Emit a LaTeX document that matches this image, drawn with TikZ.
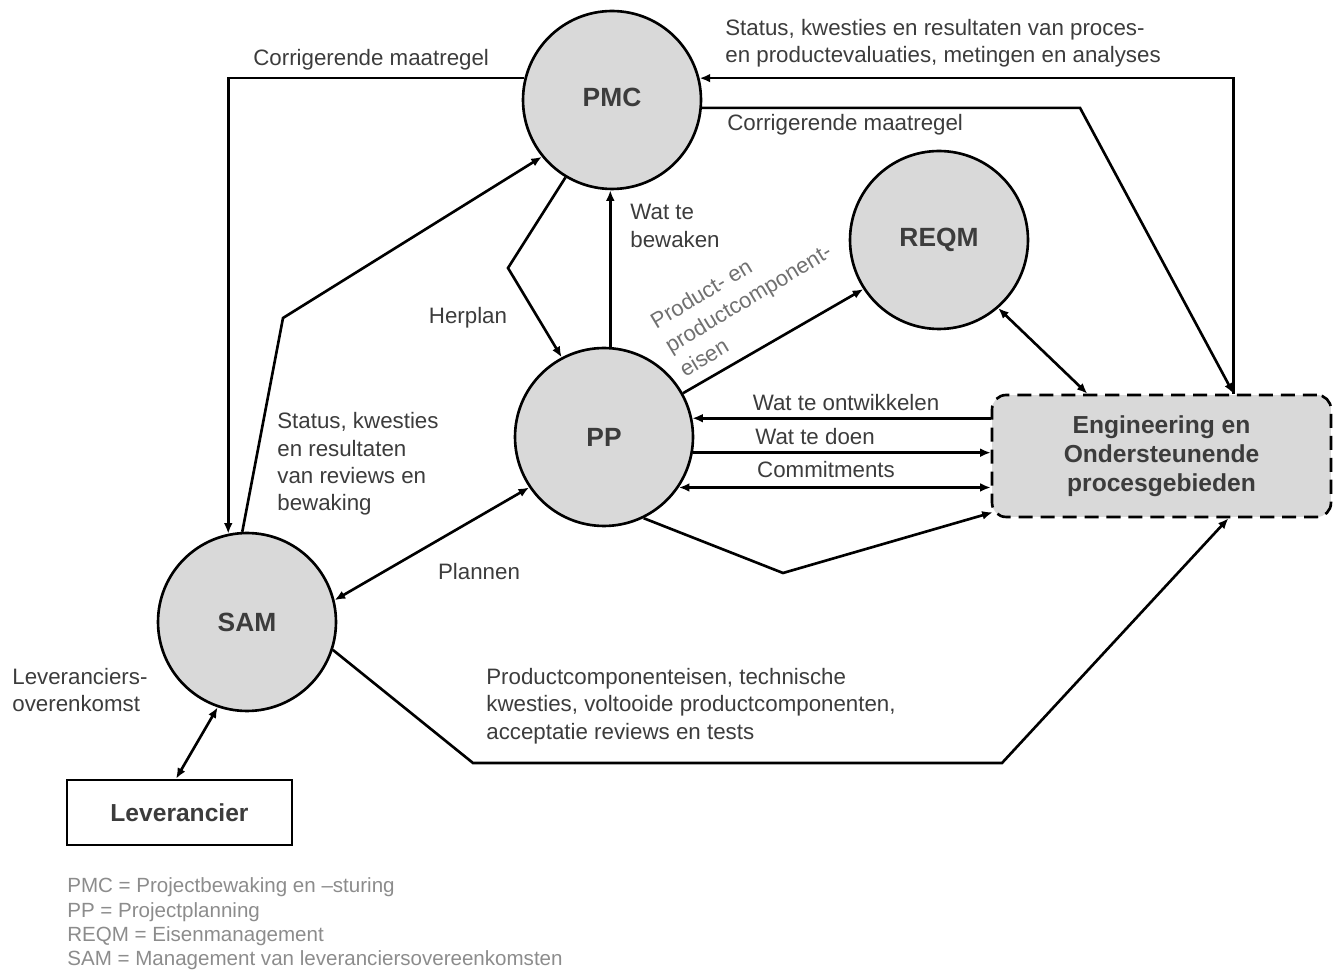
\documentclass[tikz,border=0pt]{standalone}
\usepackage{fontspec}
\setmainfont{Liberation Sans}
\usetikzlibrary{arrows.meta,calc}
\definecolor{fillgray}{HTML}{D9D9D9}
\definecolor{txt}{HTML}{3C3C3C}
\definecolor{rottxt}{HTML}{707070}
\definecolor{legtxt}{HTML}{8C8C8C}
\begin{document}
\begin{tikzpicture}[x=0.02cm,y=-0.02cm,
  proc/.style={circle,draw=black,line width=1.5pt,fill=fillgray,minimum size=3.56cm,inner sep=0pt,
    font=\fontsize{15}{18}\selectfont\bfseries,text=txt},
  conn/.style={line width=1.5pt,line join=miter},
  arr/.style={conn,-{Latex[length=6pt,width=5pt]}},
  darr/.style={conn,{Latex[length=6pt,width=5pt]}-{Latex[length=6pt,width=5pt]}},
  lbl/.style={font=\fontsize{12.7}{15.6}\selectfont,text=txt,align=left,inner sep=0pt},
  rotlbl/.style={font=\fontsize{12.5}{16}\selectfont,text=rottxt,align=left,inner sep=0pt},
  legendtxt/.style={font=\fontsize{11.7}{13.9}\selectfont,text=legtxt,align=left,inner sep=0pt},
]
\useasboundingbox (0,0) rectangle (1336,972);

% process nodes
\node[proc] (PMC) at (612,100) {\raisebox{3pt}{PMC}};
\node[proc] (PP) at (604,437) {PP};
\node[proc] (REQM) at (939,240) {\raisebox{3pt}{REQM}};
\node[proc] (SAM) at (247,622) {SAM};
\node[draw=black,dash pattern=on 8pt off 4.5pt,line width=1.5pt,rounded corners=8pt,fill=fillgray,
  minimum width=6.78cm,minimum height=2.44cm,align=center,inner sep=0pt,
  font=\fontsize{14}{16.4}\selectfont\bfseries,text=txt] (Eng) at (1161.5,456)
  {Engineering en\\Ondersteunende\\procesgebieden};
\node[draw=black,line width=1.5pt,minimum width=4.5cm,minimum height=1.3cm,inner sep=0pt,
  font=\fontsize{14}{17}\selectfont\bfseries,text=txt] (Lev) at (179.5,812.5) {Leverancier};

% connectors
\draw[arr] (PMC.166) -| (SAM.102);
\coordinate (k2) at (283,318);
\draw[arr] (SAM.93) -- (k2) -- (PMC.219);
\coordinate (k3) at (508,268);
\draw[arr] (PMC.239) -- (k3) -- (PP.118);
\draw[arr] (PP.86) -- (PP.86 |- PMC.south);
\draw[arr] (PP.29) -- (REQM.213);
\draw[darr] (REQM.311) -- ($(Eng.north west)!0.283!(Eng.north east)$);
\coordinate (k7) at (1080,107);
\coordinate (EngT) at ($(Eng.north west)!0.711!(Eng.north east)$);
\draw[arr] (PMC.355) -- (PMC.355 -| k7) -- (EngT);
\draw[arr] (EngT) |- (PMC.14);
\draw[arr] (PP.12 -| Eng.west) -- (PP.12);
\draw[arr] (PP.350) -- (PP.350 -| Eng.west);
\draw[darr] (PP.326) -- (PP.326 -| Eng.west);
\coordinate (k12) at (783,573);
\draw[arr] (PP.296) -- (k12) -- ($(Eng.south west)+(2,-6)$);
\draw[darr] (SAM.14) -- (PP.214);
\coordinate (k14a) at (473,763);
\coordinate (k14b) at (1002,763);
\draw[arr] (SAM.342) -- (k14a) -- (k14b) -- ($(Eng.south west)!0.696!(Eng.south east)$);
\draw[darr] (SAM.251) -- ($(Lev.north west)!0.485!(Lev.north east)$);

% labels
\node[lbl,anchor=west] (l1) at (253,60) {Corrigerende maatregel};
\node[lbl,anchor=west] (l2) at (725,43) {Status, kwesties en resultaten van proces-\\en productevaluaties, metingen en analyses};
\node[lbl,anchor=west] (l3) at (727,125) {Corrigerende maatregel};
\node[lbl,anchor=west] (l4) at (630,226) {Wat te\\bewaken};
\node[lbl] (l5) at (468,318) {Herplan};
\node[rotlbl,rotate=31] (l6) at (748,298) {Product- en\\productcomponent-\\eisen};
\node[lbl,anchor=west] (l7) at (277,464) {Status, kwesties\\en resultaten\\van reviews en\\bewaking};
\node[lbl] (l8) at (479,572) {Plannen};
\node[lbl] (l9) at (846,403) {Wat te ontwikkelen};
\node[lbl] (l10) at (815,437) {Wat te doen};
\node[lbl] (l11) at (826,470) {Commitments};
\node[lbl,anchor=west] (l12) at (486,706) {Productcomponenteisen, technische\\kwesties, voltooide productcomponenten,\\acceptatie reviews en tests};
\node[lbl,anchor=west] (l13) at (12,690) {Leveranciers-\\overenkomst};
\node[legendtxt,anchor=west] (leg) at (67,924) {PMC = Projectbewaking en –sturing\\PP = Projectplanning\\REQM = Eisenmanagement\\SAM = Management van leveranciersovereenkomsten};
\end{tikzpicture}
\end{document}
